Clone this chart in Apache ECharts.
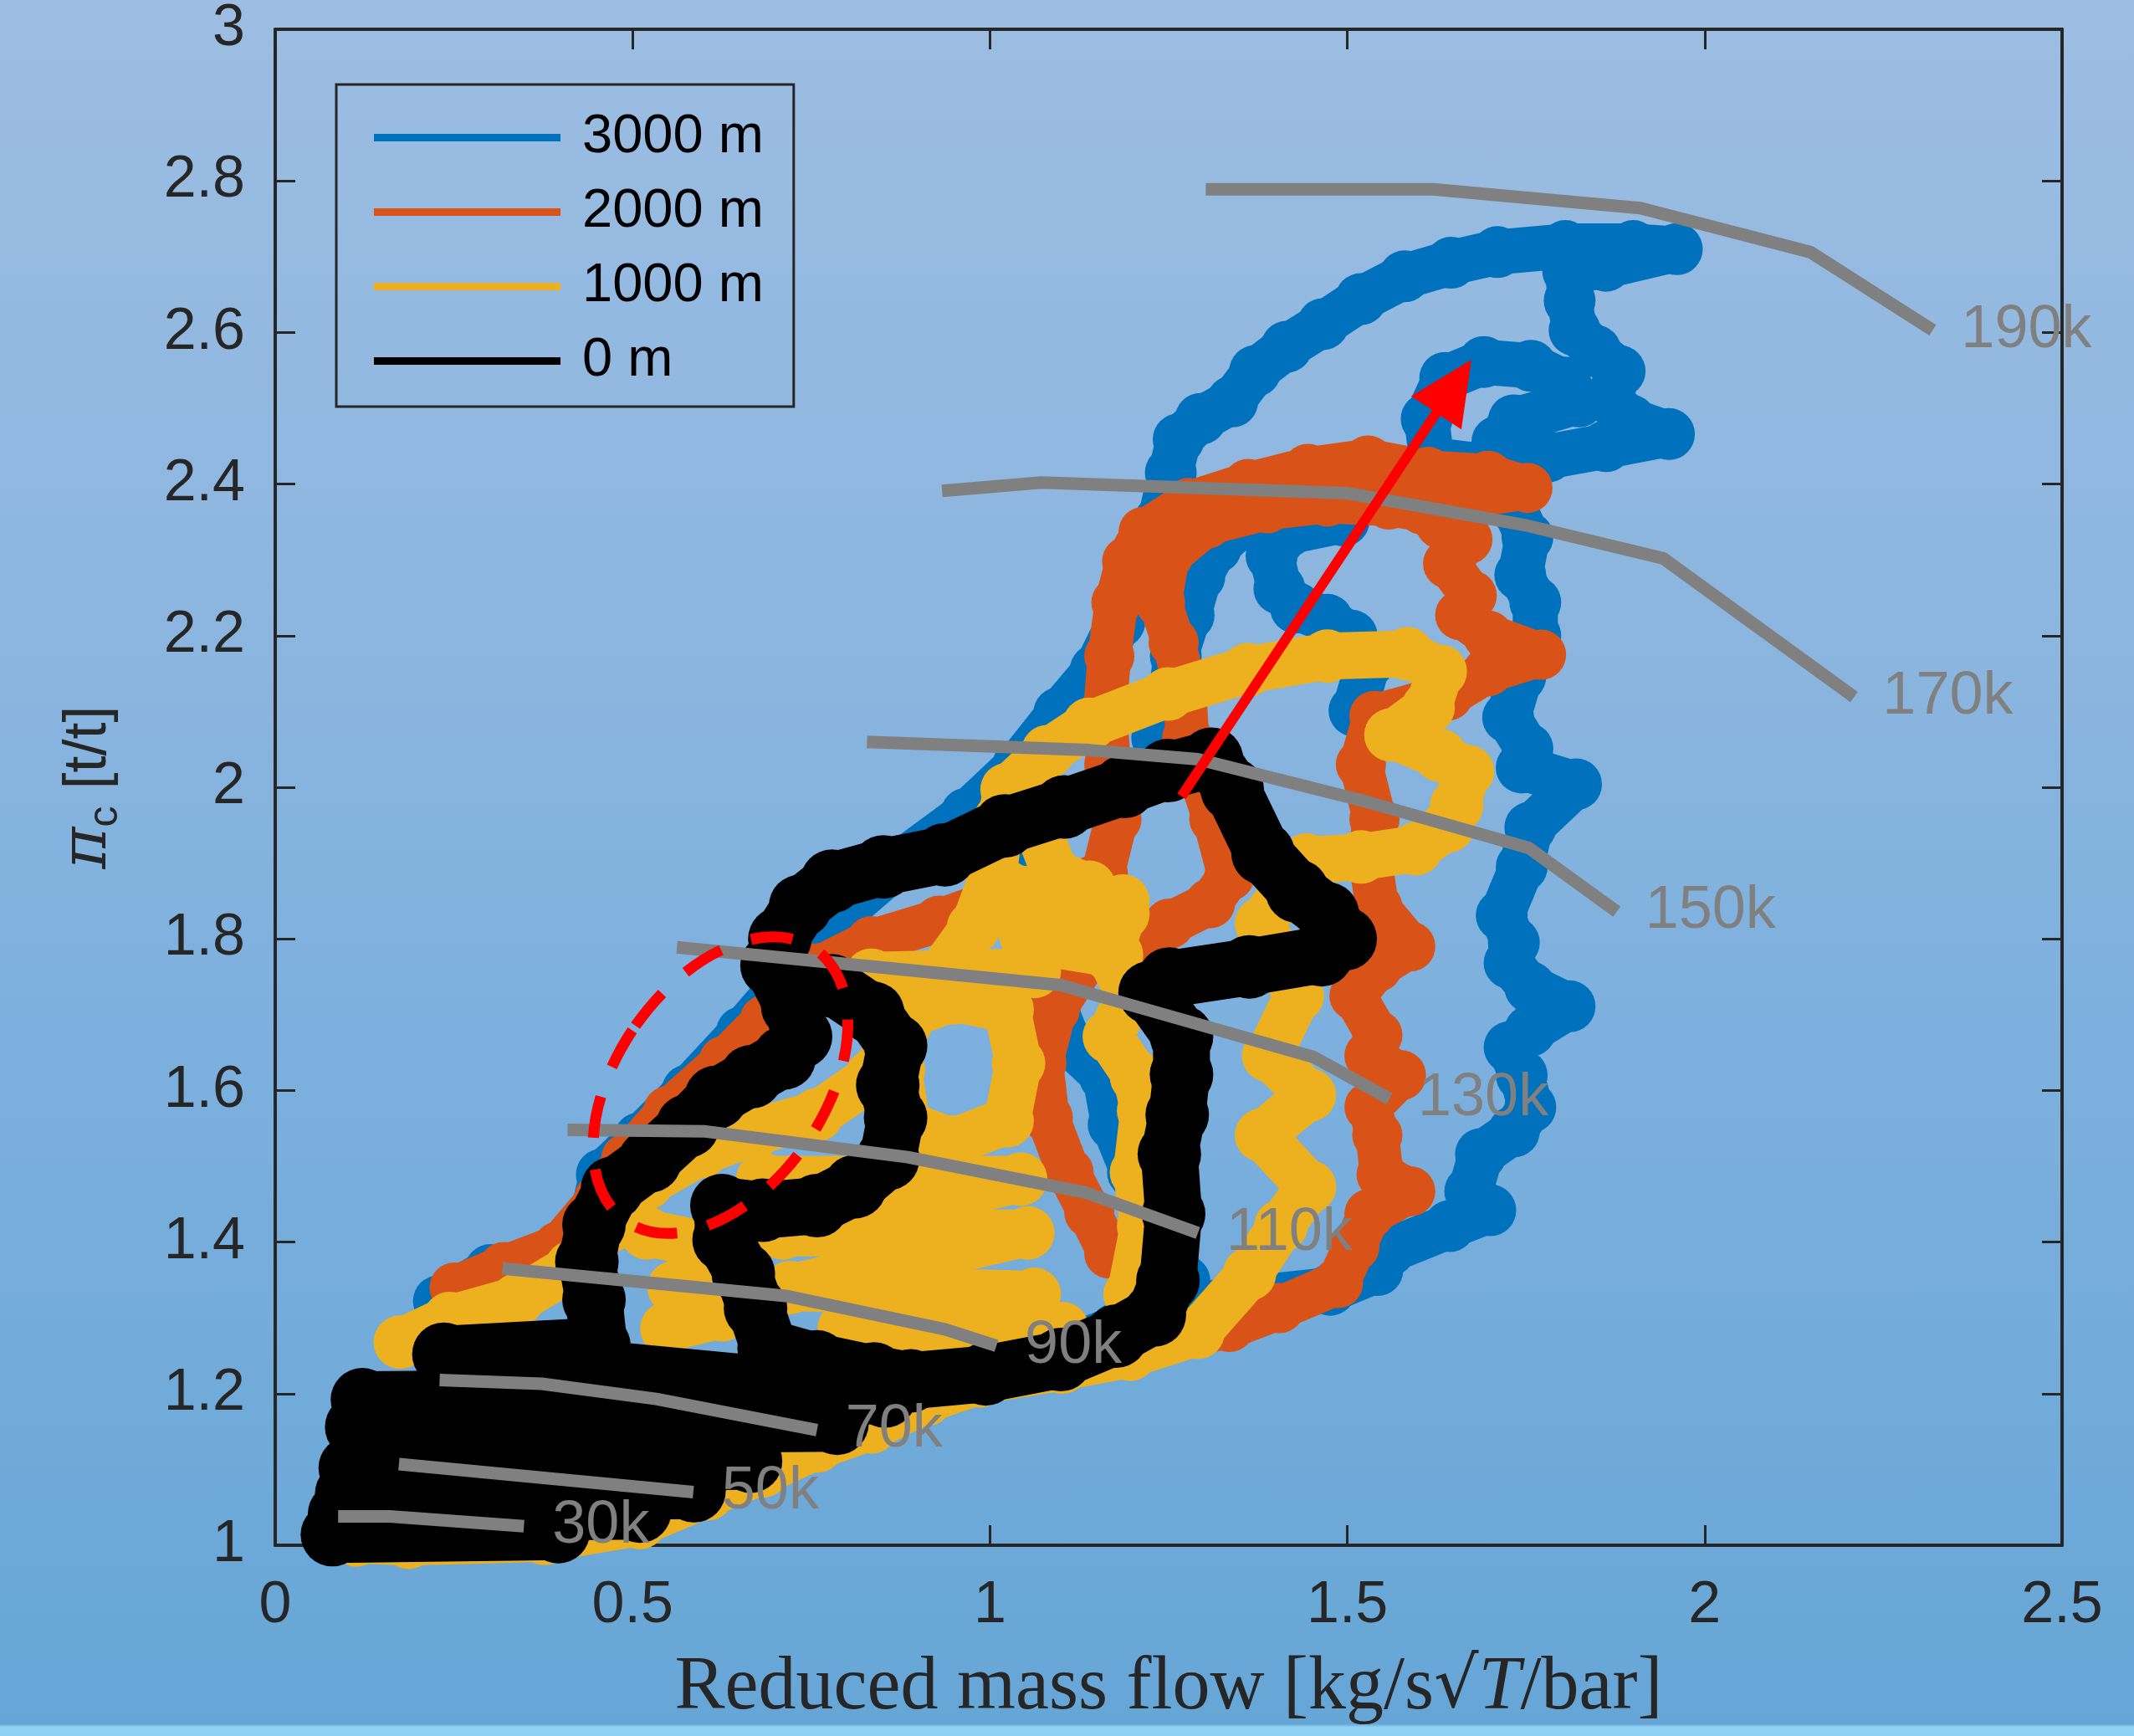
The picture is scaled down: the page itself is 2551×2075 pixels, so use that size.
<!DOCTYPE html>
<html><head><meta charset="utf-8">
<script src="https://cdn.jsdelivr.net/npm/echarts@6/dist/echarts.min.js"></script>
<style>
html,body{margin:0;padding:0;}
body{width:2551px;height:2075px;overflow:hidden;background:linear-gradient(to bottom,#9dbde2 0%,#8cb6df 35%,#7db0de 60%,#66a6d6 99.3%,#93d2f6 99.5%,#8fd0f4 100%);}
#c{width:2551px;height:2075px;}
</style></head><body><div id="c"></div>
<script>
// ---------- data ----------
const seriesNames = ['3000 m', '2000 m', '1000 m', '0 m'];
const seriesColors = ['#0072BD', '#D95319', '#EDB120', '#000000'];

// 3000 m trajectory (several strokes)
const alt3000a = [[0.229,1.322],[0.301,1.363],[0.377,1.381],[0.438,1.412],[0.457,1.489],[0.510,1.537],[0.577,1.600],[0.653,1.677],[0.720,1.750],[0.786,1.829],[0.872,1.899],[0.967,1.965],[1.040,2.030],[1.097,2.098],[1.148,2.155],[1.181,2.218],[1.211,2.280],[1.238,2.352],[1.253,2.415],[1.264,2.459],[1.295,2.486],[1.339,2.509],[1.371,2.549],[1.415,2.581],[1.466,2.611],[1.519,2.644],[1.580,2.674],[1.645,2.692],[1.710,2.706],[1.805,2.714],[1.900,2.714],[1.961,2.710],[1.862,2.688],[1.809,2.681],[1.811,2.642],[1.818,2.603],[1.847,2.576],[1.881,2.549],[1.866,2.513],[1.896,2.484],[1.950,2.466],[1.862,2.450],[1.780,2.436],[1.697,2.423],[1.618,2.432],[1.611,2.486],[1.637,2.540],[1.691,2.561],[1.757,2.556],[1.805,2.534],[1.824,2.509],[1.733,2.484],[1.710,2.456],[1.733,2.415],[1.733,2.370],[1.752,2.330],[1.742,2.280],[1.763,2.244],[1.763,2.200],[1.742,2.146],[1.725,2.092],[1.752,2.051],[1.744,2.026],[1.820,2.004],[1.756,1.947],[1.744,1.895],[1.716,1.831],[1.733,1.795],[1.727,1.768],[1.756,1.736],[1.811,1.711],[1.756,1.679],[1.727,1.657],[1.744,1.620],[1.756,1.578],[1.733,1.546],[1.687,1.516],[1.672,1.467],[1.700,1.442],[1.643,1.421],[1.559,1.389],[1.542,1.363],[1.476,1.337],[1.386,1.328],[1.281,1.317],[1.177,1.286],[1.101,1.260],[0.986,1.238]];
const alt3000b = [[1.234,2.065],[1.253,2.119],[1.260,2.173],[1.278,2.227],[1.293,2.278],[1.316,2.316],[1.350,2.346],[1.377,2.363],[1.445,2.363],[1.495,2.352],[1.417,2.337],[1.394,2.305],[1.405,2.262],[1.428,2.237],[1.472,2.221],[1.506,2.200],[1.529,2.164],[1.510,2.101]];
const alt3000c = [[1.040,1.922],[1.066,1.815],[1.081,1.734],[1.110,1.663],[1.161,1.618],[1.173,1.555],[1.200,1.492],[1.234,1.421],[1.272,1.349]];

// 2000 m trajectory
const alt2000a = [[0.251,1.340],[0.320,1.367],[0.396,1.394],[0.453,1.457],[0.491,1.510],[0.550,1.573],[0.628,1.639],[0.685,1.693],[0.758,1.761],[0.834,1.797],[0.929,1.824],[1.005,1.850],[1.101,1.868],[1.158,1.886],[1.177,1.958],[1.167,2.030],[1.161,2.101],[1.167,2.173],[1.177,2.244],[1.192,2.298],[1.215,2.337],[1.278,2.375],[1.361,2.400],[1.445,2.420],[1.529,2.431],[1.613,2.416],[1.697,2.411],[1.752,2.395],[1.672,2.384],[1.630,2.348],[1.668,2.327],[1.641,2.295],[1.674,2.253],[1.658,2.227],[1.697,2.200],[1.771,2.175],[1.697,2.153],[1.641,2.121],[1.538,2.094],[1.519,2.030],[1.538,1.958],[1.531,1.910],[1.542,1.842],[1.588,1.790],[1.542,1.763],[1.510,1.725],[1.542,1.673],[1.531,1.646],[1.575,1.620],[1.531,1.578],[1.542,1.541],[1.548,1.489],[1.588,1.467],[1.531,1.437],[1.510,1.394],[1.487,1.346],[1.405,1.313],[1.335,1.288],[1.253,1.274],[1.196,1.263],[1.101,1.242],[0.986,1.227]];
const alt2000b = [[1.605,2.366],[1.558,2.373],[1.472,2.377],[1.388,2.368],[1.304,2.348],[1.249,2.305],[1.238,2.244],[1.257,2.191],[1.272,2.137],[1.276,2.065],[1.295,2.012],[1.314,1.958],[1.335,1.883],[1.308,1.847],[1.251,1.820],[1.196,1.797],[1.139,1.779],[1.091,1.707],[1.072,1.636],[1.081,1.564],[1.110,1.492],[1.139,1.439],[1.167,1.385]];

// 1000 m trajectory
const alt1000a = [[0.175,1.268],[0.244,1.299],[0.339,1.324],[0.415,1.367],[0.468,1.421],[0.520,1.478],[0.596,1.519],[0.672,1.546],[0.758,1.568],[0.834,1.618],[0.882,1.689],[0.929,1.752],[0.977,1.815],[1.005,1.886],[1.015,1.958],[1.024,1.997],[1.081,2.047],[1.139,2.083],[1.249,2.123],[1.361,2.155],[1.472,2.173],[1.584,2.176],[1.630,2.153],[1.613,2.105],[1.561,2.069],[1.630,2.042],[1.668,2.021],[1.653,1.976],[1.641,1.949],[1.596,1.919],[1.519,1.908],[1.443,1.904],[1.415,1.868],[1.380,1.820],[1.430,1.725],[1.390,1.646],[1.447,1.594],[1.380,1.541],[1.447,1.473],[1.407,1.421],[1.363,1.358],[1.291,1.281],[1.196,1.252],[1.101,1.235],[0.986,1.217],[0.910,1.192],[0.834,1.156],[0.758,1.131],[0.682,1.098],[0.605,1.068],[0.510,1.030],[0.377,1.009],[0.187,1.004],[0.114,1.007]];
const alt1000b = [[1.062,1.958],[1.091,1.886],[1.139,1.868],[1.186,1.833],[1.167,1.779],[1.196,1.725],[1.167,1.671],[1.205,1.618],[1.215,1.573],[1.205,1.492],[1.215,1.421],[1.196,1.331]];
const alt1000c = [[0.882,1.698],[0.948,1.722],[1.024,1.707],[1.040,1.636],[1.024,1.560],[0.948,1.532],[0.884,1.555],[0.872,1.627],[0.882,1.698]];
const alt1000d = [[0.682,1.483],[1.043,1.483],[0.710,1.412],[1.053,1.412],[0.720,1.340],[1.062,1.331],[0.796,1.286],[1.101,1.286]];
const alt1000e = [[0.520,1.412],[0.615,1.394],[0.558,1.340],[0.625,1.304],[0.548,1.286]];
const alt1000f = [[0.834,1.752],[1.062,1.757],[1.024,1.868],[1.186,1.850],[1.062,1.797],[1.177,1.779]];

// 0 m trajectory
const alt0a = [[0.080,1.014],[0.396,1.018],[0.090,1.041],[0.510,1.045],[0.100,1.068],[0.586,1.072],[0.105,1.102],[0.665,1.111],[0.114,1.156],[0.786,1.161],[0.122,1.192],[0.853,1.197],[0.236,1.252],[0.453,1.263],[0.446,1.324],[0.436,1.374],[0.446,1.423],[0.472,1.471],[0.524,1.507],[0.577,1.553],[0.617,1.591],[0.666,1.618],[0.712,1.643],[0.735,1.671],[0.724,1.711],[0.695,1.765],[0.706,1.800],[0.735,1.843],[0.779,1.876],[0.851,1.895],[0.937,1.911],[1.021,1.949],[1.104,1.974],[1.188,2.001],[1.249,2.022],[1.310,2.037],[1.339,1.997],[1.382,1.913],[1.430,1.863],[1.472,1.833],[1.497,1.800],[1.464,1.779],[1.363,1.763],[1.251,1.747],[1.224,1.729],[1.268,1.671],[1.268,1.621],[1.262,1.568],[1.251,1.516],[1.257,1.437],[1.249,1.349],[1.230,1.304],[1.177,1.276],[1.099,1.245],[0.994,1.226],[0.889,1.217],[0.838,1.226],[0.758,1.242],[0.691,1.260],[0.672,1.313],[0.655,1.358],[0.628,1.403],[0.625,1.448],[0.682,1.442],[0.758,1.448],[0.811,1.473],[0.857,1.510],[0.868,1.564],[0.857,1.607],[0.868,1.659],[0.836,1.702],[0.779,1.738],[0.739,1.734]];

// constant corrected-speed lines
const speedLabels = ['190k','170k','150k','130k','110k','90k','70k','50k','30k'];
const speed190 = [[1.302,2.789],[1.620,2.789],[1.910,2.764],[2.148,2.706],[2.319,2.603]];
const speed170 = [[0.933,2.391],[1.072,2.402],[1.500,2.388],[1.748,2.346],[1.942,2.302],[2.209,2.119]];
const speed150 = [[0.828,2.060],[1.139,2.049],[1.291,2.037],[1.519,1.983],[1.754,1.920],[1.877,1.836]];
const speed130 = [[0.562,1.789],[1.099,1.739],[1.222,1.706],[1.453,1.644],[1.559,1.589]];
const speed110 = [[0.409,1.548],[0.602,1.546],[0.885,1.512],[1.135,1.465],[1.291,1.412]];
const speed90 = [[0.318,1.365],[0.714,1.329],[0.937,1.285],[1.009,1.263]];
const speed70 = [[0.230,1.218],[0.373,1.213],[0.533,1.193],[0.758,1.152]];
const speed50 = [[0.173,1.107],[0.385,1.088],[0.585,1.070]];
const speed30 = [[0.088,1.038],[0.160,1.038],[0.348,1.025]];

// annotations
const arrowStart = [1.268, 1.988];
const arrowEnd = [1.649, 2.529];
const circleCenter = [0.623, 1.607];

// ---------- chart ----------
const SANS = 'Liberation Sans, Arial, Helvetica, sans-serif';
const SERIF = 'Liberation Serif, Times New Roman, serif';
const AX = '#262626';
const chart = echarts.init(document.getElementById('c'), null, {width: 2551, height: 2075, renderer: 'canvas'});

function traj(idx, data, width) {
  const col = seriesColors[idx];
  return {
    type: 'line', name: seriesNames[idx], data: data, clip: false, silent: true,
    symbol: 'circle', symbolSize: width + 8, showSymbol: true,
    itemStyle: {color: col}, lineStyle: {color: col, width: width, cap: 'round', join: 'round'},
    z: 2 + idx
  };
}
function speed(data, label) {
  return {
    type: 'line', data: data, symbol: 'none', silent: true, clip: false,
    lineStyle: {color: '#808080', width: 15, cap: 'butt'},
    endLabel: {show: true, formatter: label, color: '#808080', fontSize: 72, fontFamily: SANS, distance: 34},
    z: 7
  };
}

const series = [
  traj(0, alt3000a, 54), traj(0, alt3000b, 54), traj(0, alt3000c, 54),
  traj(1, alt2000a, 52), traj(1, alt2000b, 52),
  traj(2, alt1000a, 56), traj(2, alt1000b, 56), traj(2, alt1000c, 56), traj(2, alt1000d, 56), traj(2, alt1000e, 56), traj(2, alt1000f, 56),
  traj(3, alt0a, 68),
  speed(speed190, speedLabels[0]), speed(speed170, speedLabels[1]), speed(speed150, speedLabels[2]),
  speed(speed130, speedLabels[3]), speed(speed110, speedLabels[4]), speed(speed90, speedLabels[5]),
  speed(speed70, speedLabels[6]), speed(speed50, speedLabels[7]), speed(speed30, speedLabels[8]),
  {
    type: 'line', data: [], silent: true, z: 20,
    markLine: {
      silent: true, animation: false, z: 20,
      symbol: ['none', 'triangle'], symbolSize: [72, 76],
      lineStyle: {color: '#ff0000', width: 12, type: 'solid'},
      label: {show: false},
      data: [[{coord: arrowStart}, {coord: arrowEnd}]]
    }
  }
];

const axisCommon = {
  type: 'value', splitLine: {show: false},
  axisLine: {show: true, onZero: false, lineStyle: {color: AX, width: 4}},
  axisTick: {show: true, inside: true, length: 24, lineStyle: {color: AX, width: 3}}
};

const option = {
  animation: false,
  backgroundColor: 'transparent',
  grid: {left: 329, right: 86, top: 30, bottom: 228, containLabel: false},
  legend: {
    data: seriesNames, orient: 'vertical', left: 402, top: 101,
    icon: 'rect', itemWidth: 223, itemHeight: 9, itemGap: 24,
    padding: [31, 36, 22, 45], borderColor: AX, borderWidth: 3, backgroundColor: 'transparent',
    selectedMode: false,
    textStyle: {fontSize: 65, color: '#000', fontFamily: SANS, padding: [0, 0, 0, 21], lineHeight: 62}
  },
  xAxis: [
    Object.assign({}, axisCommon, {
      min: 0, max: 2.5, interval: 0.5, position: 'bottom',
      axisLabel: {fontSize: 70, color: AX, fontFamily: SANS, margin: 38},
      name: 'Reduced mass flow [kg/s{sq|√}{t|T}/bar]', nameLocation: 'middle', nameGap: 126,
      nameTextStyle: {fontFamily: SERIF, fontSize: 90, color: AX,
        rich: {sq: {fontFamily: 'DejaVu Serif', fontSize: 84, color: AX}, t: {fontFamily: SERIF, fontStyle: 'italic', fontSize: 90, color: AX}}}
    }),
    Object.assign({}, axisCommon, {min: 0, max: 2.5, interval: 0.5, position: 'top', axisLabel: {show: false}})
  ],
  yAxis: [
    Object.assign({}, axisCommon, {
      min: 1, max: 3, interval: 0.2, position: 'left',
      axisLabel: {fontSize: 70, color: AX, fontFamily: SANS, margin: 36},
      name: '{pi|π}{sub|c}{n| [t/t]}', nameLocation: 'middle', nameRotate: 90, nameGap: 178,
      nameTextStyle: {color: AX, rich: {
        pi: {fontFamily: 'DejaVu Serif', fontStyle: 'italic', fontSize: 76, color: AX, lineHeight: 90, verticalAlign: 'middle'},
        sub: {fontFamily: SANS, fontSize: 50, color: AX, lineHeight: 90, verticalAlign: 'bottom'},
        n: {fontFamily: SANS, fontSize: 72, color: AX, lineHeight: 90, verticalAlign: 'middle'}
      }}
    }),
    Object.assign({}, axisCommon, {min: 1, max: 3, interval: 0.2, position: 'right', axisLabel: {show: false}})
  ],
  series: series
};
chart.setOption(option);

const cp = chart.convertToPixel({xAxisIndex: 0, yAxisIndex: 0}, circleCenter);
chart.setOption({
  graphic: [{
    type: 'ellipse', x: cp[0], y: cp[1], rotation: -0.61, silent: true, z: 100,
    shape: {cx: 0, cy: 0, rx: 124, ry: 198},
    style: {fill: 'none', stroke: '#ff0000', lineWidth: 13, lineDash: [50, 38]}
  }]
});
</script></body></html>
